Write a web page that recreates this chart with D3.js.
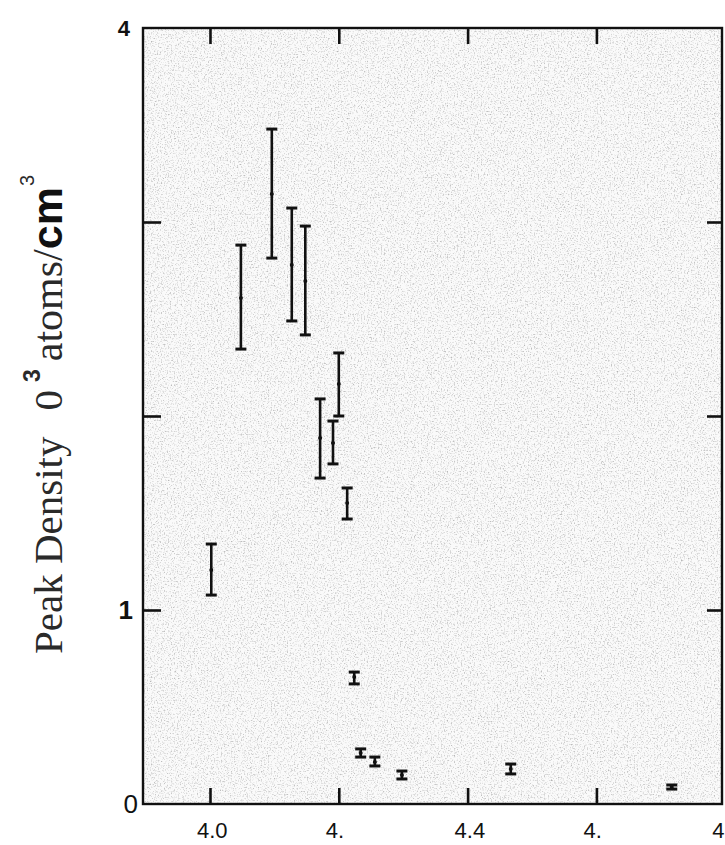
<!DOCTYPE html>
<html>
<head>
<meta charset="utf-8">
<script src="https://cdn.jsdelivr.net/npm/d3@7"></script>
<style>
  html, body { margin: 0; padding: 0; background: #fff; }
  svg { display: block; }
</style>
</head>
<body>
<svg id="chart" width="725" height="845"></svg>
<script>
// ---- data ----
const energy  = [4.002, 4.048, 4.096, 4.127, 4.148, 4.171, 4.191, 4.200, 4.213, 4.224, 4.234, 4.256, 4.298, 4.467, 4.717];
const density = [1.206, 2.608, 3.144, 2.778, 2.696, 1.887, 1.861, 2.165, 1.552, 0.655, 0.263, 0.216, 0.149, 0.180, 0.088];
const lower   = [1.077, 2.345, 2.814, 2.490, 2.418, 1.680, 1.753, 2.000, 1.469, 0.619, 0.242, 0.196, 0.129, 0.155, 0.077];
const upper   = [1.340, 2.881, 3.479, 3.072, 2.979, 2.088, 1.974, 2.325, 1.629, 0.680, 0.284, 0.242, 0.170, 0.206, 0.098];

const xTickValues = [4.0, 4.2, 4.4, 4.6, 4.8];
const xTickLabels = ["4.0", "4.", "4.4", "4.", "4"];
const yTickValues = [0, 1, 2, 3, 4];
const yTickLabels = ["0", "1", "", "", "4"];

(function () {
// ---- layout ----
const svg = d3.select("#chart");
const pL = 143, pR = 722, pT = 28, pB = 804;

const x = d3.scaleLinear().domain([3.896, 4.795]).range([pL, pR]);
const y = d3.scaleLinear().domain([0, 4]).range([pB, pT]);

// scanned-paper texture inside the frame
const defs = svg.append("defs");
const f = defs.append("filter").attr("id", "grain").attr("x", 0).attr("y", 0).attr("width", 1).attr("height", 1);
f.append("feTurbulence").attr("type", "fractalNoise").attr("baseFrequency", 0.7).attr("numOctaves", 3).attr("seed", 3).attr("result", "n");
f.append("feColorMatrix").attr("in", "n").attr("type", "matrix")
  .attr("values", "0 0 0 0 0.45  0 0 0 0 0.45  0 0 0 0 0.45  2.4 0 0 0 -1.22");
svg.append("rect").attr("x", pL).attr("y", pT).attr("width", pR - pL).attr("height", pB - pT)
  .attr("fill", "#fafafa");
svg.append("rect").attr("x", pL).attr("y", pT).attr("width", pR - pL).attr("height", pB - pT)
  .attr("filter", "url(#grain)");

// frame
svg.append("rect").attr("x", pL).attr("y", pT).attr("width", pR - pL).attr("height", pB - pT)
  .attr("fill", "none").attr("stroke", "#111").attr("stroke-width", 2.4);

// axes (ticks drawn inward, as on the original)
const inX = xTickValues.filter(v => x(v) <= pR);
const inY = yTickValues.filter(v => v > 0 && v < 4);

const gBottom = svg.append("g").attr("transform", `translate(0,${pB})`)
  .call(d3.axisTop(x).tickValues(inX).tickSize(16).tickFormat(""));
const gTop = svg.append("g").attr("transform", `translate(0,${pT})`)
  .call(d3.axisBottom(x).tickValues(inX).tickSize(16).tickFormat(""));
const gLeft = svg.append("g").attr("transform", `translate(${pL},0)`)
  .call(d3.axisRight(y).tickValues(inY).tickSize(18).tickFormat(""));
const gRight = svg.append("g").attr("transform", `translate(${pR},0)`)
  .call(d3.axisLeft(y).tickValues(inY).tickSize(15).tickFormat(""));
[gBottom, gTop, gLeft, gRight].forEach(g => {
  g.select(".domain").remove();
  g.selectAll(".tick line").attr("stroke", "#111").attr("stroke-width", 2.6);
});

// x tick labels
svg.append("g").selectAll("text").data(xTickValues).join("text")
  .attr("x", d => x(d) - 13)
  .attr("y", 838)
  .attr("font-family", "'Liberation Sans', Arial, sans-serif")
  .attr("font-size", 22)
  .attr("fill", "#111")
  .text((d, i) => xTickLabels[i]);

// y tick labels
const yLabelStyle = v => v === 4 ? {size: 22, weight: "bold", dx: -13} :
                        v === 1 ? {size: 26, weight: "bold", dx: -10} :
                                  {size: 26, weight: "normal", dx: -5};
svg.append("g").selectAll("text").data(yTickValues.filter((v, i) => yTickLabels[i] !== "")).join("text")
  .attr("x", d => pL + yLabelStyle(d).dx)
  .attr("y", d => y(d))
  .attr("dy", "0.35em")
  .attr("text-anchor", "end")
  .attr("font-family", "'Liberation Sans', Arial, sans-serif")
  .attr("font-size", d => yLabelStyle(d).size)
  .attr("font-weight", d => yLabelStyle(d).weight)
  .attr("fill", "#111")
  .text(d => yTickLabels[yTickValues.indexOf(d)]);

// y axis title (rotated, mixed fonts)
const serif = "'Liberation Serif', 'Times New Roman', serif";
const sans = "'Liberation Sans', Arial, sans-serif";
const title = svg.append("text")
  .attr("transform", "translate(62,654) rotate(-90)")
  .attr("fill", "#2a2a2a");
title.append("tspan").attr("font-family", serif).attr("font-size", 41).text("Peak Density");
title.append("tspan").attr("font-family", serif).attr("font-size", 41).attr("dx", 26).text("0");
title.append("tspan").attr("font-family", sans).attr("font-weight", "bold").attr("font-size", 23)
  .attr("dx", 8).attr("dy", -22).text("3");
title.append("tspan").attr("font-family", serif).attr("font-size", 42).attr("dx", 8).attr("dy", 22).text("atoms/");
title.append("tspan").attr("font-family", sans).attr("font-weight", "bold").attr("font-size", 43).attr("fill", "#111").text("cm");
title.append("tspan").attr("font-family", sans).attr("font-size", 20).attr("dx", 1).attr("dy", -28).text("3");

// error bars
const pts = energy.map((e, i) => ({e, v: density[i], lo: lower[i], hi: upper[i]}));
const eb = svg.append("g").attr("stroke", "#111");
eb.selectAll("line.bar").data(pts).join("line").attr("class", "bar")
  .attr("x1", d => x(d.e)).attr("x2", d => x(d.e))
  .attr("y1", d => y(d.lo)).attr("y2", d => y(d.hi))
  .attr("stroke-width", 2.6);
eb.selectAll("line.capHi").data(pts).join("line").attr("class", "capHi")
  .attr("x1", d => x(d.e) - 5.5).attr("x2", d => x(d.e) + 5.5)
  .attr("y1", d => y(d.hi)).attr("y2", d => y(d.hi))
  .attr("stroke-width", 3);
eb.selectAll("line.capLo").data(pts).join("line").attr("class", "capLo")
  .attr("x1", d => x(d.e) - 5.5).attr("x2", d => x(d.e) + 5.5)
  .attr("y1", d => y(d.lo)).attr("y2", d => y(d.lo))
  .attr("stroke-width", 3);
svg.append("g").selectAll("circle").data(pts).join("circle")
  .attr("cx", d => x(d.e)).attr("cy", d => y(d.v)).attr("r", 2)
  .attr("fill", "#111");
})();
</script>
</body>
</html>
